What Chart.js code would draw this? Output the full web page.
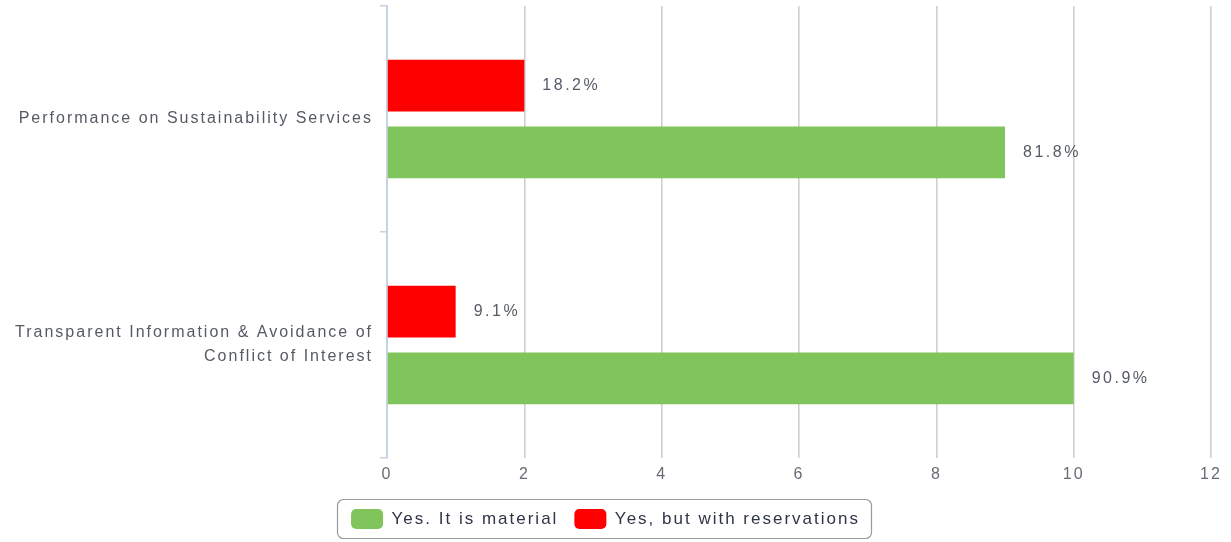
<!DOCTYPE html>
<html>
<head>
<meta charset="utf-8">
<script src="https://cdn.jsdelivr.net/npm/chart.js@4.4.1/dist/chart.umd.min.js"></script>
<style>
html,body{margin:0;padding:0;background:#fff;}
#wrap{width:1231px;height:542px;position:relative;}
</style>
</head>
<body>
<div id="wrap"><canvas id="c" width="1231" height="542"></canvas></div>
<script>
const categories = [
  'Performance on Sustainability Services',
  ['Transparent Information & Avoidance of', 'Conflict of Interest']
];
const seriesNames = ['Yes, but with reservations', 'Yes. It is material'];
const reservationsValues = [2, 1];
const materialValues = [9, 10];
const reservationsLabels = ['18.2%', '9.1%'];
const materialLabels = ['81.8%', '90.9%'];
const xTicks = [0, 2, 4, 6, 8, 10, 12];

const FONT = '"Liberation Sans", Arial, sans-serif';

const spacingPlugin = {
  id: 'spacing',
  beforeLayout(chart) { chart.ctx.letterSpacing = '2px'; },
  beforeDraw(chart) { chart.ctx.letterSpacing = '2px'; }
};

const valueLabelPlugin = {
  id: 'valueLabels',
  afterDatasetsDraw(chart) {
    const ctx = chart.ctx;
    ctx.save();
    ctx.letterSpacing = '2.5px';
    ctx.font = '16px ' + FONT;
    ctx.fillStyle = '#555b66';
    ctx.textBaseline = 'middle';
    ctx.textAlign = 'left';
    chart.data.datasets.forEach((ds, di) => {
      const meta = chart.getDatasetMeta(di);
      meta.data.forEach((el, i) => {
        ctx.fillText(ds.pctLabels[i], el.x + 18, el.y);
      });
    });
    ctx.restore();
  }
};

const legendBoxPlugin = {
  id: 'legendBox',
  afterDraw(chart) {
    const lg = chart.legend;
    if (!lg || !lg.legendHitBoxes || !lg.legendHitBoxes.length) return;
    const hb = lg.legendHitBoxes;
    let l = Infinity, r = -Infinity, t = Infinity, b = -Infinity;
    hb.forEach(h => { l = Math.min(l, h.left); r = Math.max(r, h.left + h.width); t = Math.min(t, h.top); b = Math.max(b, h.top + h.height); });
    const ctx = chart.ctx;
    ctx.save();
    ctx.strokeStyle = '#9a9a9a';
    ctx.lineWidth = 1.2;
    ctx.beginPath();
    ctx.roundRect(Math.round(l) - 13.5, Math.round(t) - 9.5, Math.round(r - l) + 25, Math.round(b - t) + 19, 6);
    ctx.stroke();
    ctx.restore();
  }
};

new Chart(document.getElementById('c'), {
  type: 'bar',
  data: {
    labels: categories,
    datasets: [
      {
        label: seriesNames[0],
        data: reservationsValues,
        pctLabels: reservationsLabels,
        backgroundColor: '#ff0000',
        borderWidth: 0,
        categoryPercentage: 0.59,
        barPercentage: 0.776
      },
      {
        label: seriesNames[1],
        data: materialValues,
        pctLabels: materialLabels,
        backgroundColor: '#80c45c',
        borderWidth: 0,
        categoryPercentage: 0.59,
        barPercentage: 0.776
      }
    ]
  },
  options: {
    indexAxis: 'y',
    responsive: false,
    animation: false,
    devicePixelRatio: 1,
    layout: { padding: { top: 6, right: 20, left: 0, bottom: 3 } },
    scales: {
      x: {
        min: 0, max: 12,
        afterBuildTicks(scale) { scale.ticks = xTicks.map(v => ({ value: v })); },
        grid: { color: '#cfcfcf', lineWidth: 1.6, drawTicks: false },
        border: { display: false },
        ticks: { color: '#666b74', font: { family: FONT, size: 16 }, padding: 7 },
        afterFit(scale) { scale.height = 35; }
      },
      y: {
        grid: { drawOnChartArea: false, drawTicks: true, tickLength: 7, color: '#c5d3e2', lineWidth: 1.5, offset: true },
        border: { display: true, color: '#c5d3e2', width: 2 },
        ticks: { color: '#555a63', font: { family: FONT, size: 16, lineHeight: 1.5 }, padding: 7 },
        afterFit(scale) { scale.width = 387; scale.paddingTop = 0; scale.paddingBottom = 0; }
      }
    },
    plugins: {
      tooltip: { enabled: false },
      legend: {
        position: 'bottom',
        reverse: true,
        labels: {
          boxWidth: 32, boxHeight: 20, useBorderRadius: true, borderRadius: 5,
          color: '#2e3546', font: { family: FONT, size: 17 }, padding: 16
        }
      }
    }
  },
  plugins: [spacingPlugin, valueLabelPlugin, legendBoxPlugin]
});
</script>
</body>
</html>
